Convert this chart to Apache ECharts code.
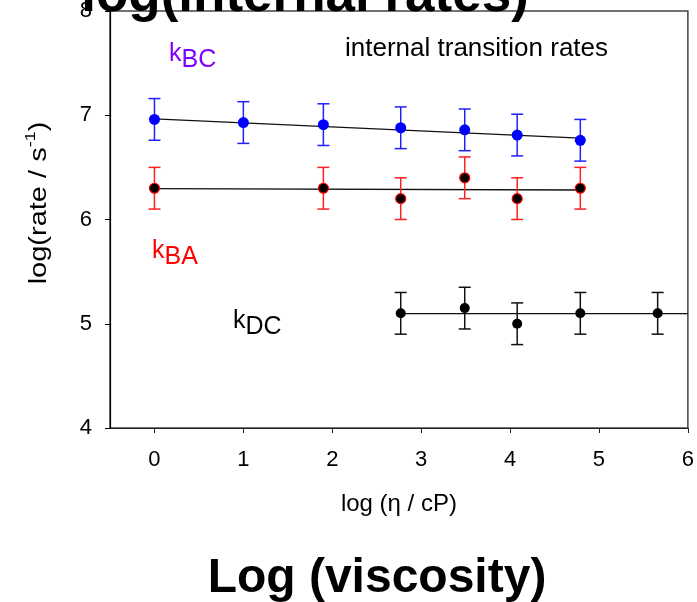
<!DOCTYPE html>
<html>
<head>
<meta charset="utf-8">
<script src="https://cdn.jsdelivr.net/npm/echarts@6/dist/echarts.min.js"></script>
<style>
html,body{margin:0;padding:0;background:#fff;}
#chart{width:697px;height:602px;}
</style>
</head>
<body>
<div id="chart"></div>
<script>
// ---- data ----
const xTicks = [0, 1, 2, 3, 4, 5, 6];
const yTicks = [4, 5, 6, 7, 8];

// k_BC (blue)
const xBC = [0, 1.0, 1.9, 2.77, 3.49, 4.08, 4.79];
const yBC = [6.96, 6.93, 6.91, 6.88, 6.86, 6.81, 6.76];
const eBC = [0.2, 0.2, 0.2, 0.2, 0.2, 0.2, 0.2];
const fitBC = [[0, 6.965], [4.79, 6.78]];

// k_BA (red)
const xBA = [0, 1.9, 2.77, 3.49, 4.08, 4.79];
const yBA = [6.3, 6.3, 6.2, 6.4, 6.2, 6.3];
const eBA = [0.2, 0.2, 0.2, 0.2, 0.2, 0.2];
const fitBA = [[0, 6.297], [4.79, 6.283]];

// k_DC (black)
const xDC = [2.77, 3.49, 4.08, 4.79, 5.66];
const yDC = [5.1, 5.15, 5.0, 5.1, 5.1];
const eDC = [0.2, 0.2, 0.2, 0.2, 0.2];
const fitDC = [[2.77, 5.097], [6, 5.097]];

const FONT = "'Liberation Sans', Arial, Helvetica, sans-serif";

function pts(xs, ys) { return xs.map((x, i) => [x, ys[i]]); }
function errs(xs, ys, es) { return xs.map((x, i) => [x, ys[i] - es[i], ys[i] + es[i]]); }

function errRender(color) {
  return function (params, api) {
    const x = api.value(0), lo = api.value(1), hi = api.value(2);
    const a = api.coord([x, lo]), b = api.coord([x, hi]);
    const hw = 6;
    const st = { stroke: color, lineWidth: 1.5 };
    return {
      type: 'group',
      children: [
        { type: 'line', shape: { x1: a[0], y1: a[1], x2: b[0], y2: b[1] }, style: st },
        { type: 'line', shape: { x1: a[0] - hw, y1: a[1], x2: a[0] + hw, y2: a[1] }, style: st },
        { type: 'line', shape: { x1: b[0] - hw, y1: b[1], x2: b[0] + hw, y2: b[1] }, style: st }
      ]
    };
  };
}

const chart = echarts.init(document.getElementById('chart'), null, { renderer: 'canvas' });

function kLabel(sub, color, left, top) {
  return {
    type: 'text', left: left, top: top, z: 100,
    style: {
      text: '{k|k}{s|' + sub + '}',
      fill: color,
      font: '25px ' + FONT,
      rich: {
        k: { fontSize: 25, fontFamily: FONT, lineHeight: 25, verticalAlign: 'top', fill: color },
        s: { fontSize: 25, fontFamily: FONT, lineHeight: 25, padding: [6, 0, 0, 0], verticalAlign: 'top', fill: color }
      }
    }
  };
}

const option = {
  backgroundColor: '#fff',
  animation: false,
  grid: {
    left: 110, right: 8, top: 11, bottom: 174,
    show: true, borderColor: '#444', borderWidth: 1.5, backgroundColor: 'transparent'
  },
  xAxis: {
    type: 'value', min: -0.5, max: 6,
    axisLine: { show: true, onZero: false, lineStyle: { color: '#222', width: 1.2 } },
    axisTick: { show: true, length: 5, lineStyle: { color: '#222' }, customValues: xTicks },
    axisLabel: { customValues: xTicks, color: '#000', fontSize: 22, fontFamily: FONT, margin: 21 },
    splitLine: { show: false },
    name: 'log (\u03B7 / cP)',
    nameLocation: 'middle', nameGap: 76,
    nameTextStyle: { color: '#000', fontSize: 24, fontFamily: FONT, verticalAlign: 'middle' }
  },
  yAxis: {
    type: 'value', min: 4, max: 8, interval: 1,
    axisLine: { show: true, onZero: false, lineStyle: { color: '#000', width: 1.2 } },
    axisTick: { show: true, length: 5, lineStyle: { color: '#000' }, customValues: yTicks },
    axisLabel: { customValues: yTicks, color: '#000', fontSize: 22, fontFamily: FONT, margin: 18 },
    splitLine: { show: false }
  },
  series: [
    { type: 'line', data: fitBC, symbol: 'none', lineStyle: { color: '#111', width: 1.3 }, z: 2 },
    { type: 'line', data: fitBA, symbol: 'none', lineStyle: { color: '#111', width: 1.3 }, z: 2 },
    { type: 'line', data: fitDC, symbol: 'none', lineStyle: { color: '#111', width: 1.3 }, z: 2 },
    { type: 'custom', renderItem: errRender('#2020ff'), data: errs(xBC, yBC, eBC), encode: { x: 0, y: [1, 2] }, z: 3 },
    { type: 'custom', renderItem: errRender('#ff2020'), data: errs(xBA, yBA, eBA), encode: { x: 0, y: [1, 2] }, z: 3 },
    { type: 'custom', renderItem: errRender('#111111'), data: errs(xDC, yDC, eDC), encode: { x: 0, y: [1, 2] }, z: 3 },
    { type: 'scatter', data: pts(xBC, yBC), symbol: 'circle', symbolSize: 11, itemStyle: { color: '#0000ff', opacity: 1 }, z: 4 },
    { type: 'scatter', data: pts(xBA, yBA), symbol: 'circle', symbolSize: 10, itemStyle: { color: '#000', borderColor: '#ff0000', borderWidth: 1.2, opacity: 1 }, z: 4 },
    { type: 'scatter', data: pts(xDC, yDC), symbol: 'circle', symbolSize: 10, itemStyle: { color: '#000', opacity: 1 }, z: 4 }
  ],
  graphic: [
    {
      type: 'text', x: 305, y: -4, z: 100,
      style: { text: 'log(internal rates)', fill: '#000', font: 'bold 53px ' + FONT, align: 'center', verticalAlign: 'middle' }
    },
    {
      type: 'text', x: 345, y: 49, z: 100,
      style: { text: 'internal transition rates', fill: '#000', font: '26px ' + FONT, align: 'left', verticalAlign: 'middle' }
    },
    kLabel('BC', '#8000ff', 169, 42),
    kLabel('BA', '#ff0000', 152, 239),
    kLabel('DC', '#000000', 233, 309),
    {
      type: 'text', x: 37, y: 203, rotation: Math.PI / 2, scaleY: 0.82, z: 100,
      style: {
        text: '{a|log(rate / s}{b|-1}{a|)}',
        fill: '#000', align: 'center', verticalAlign: 'middle',
        rich: {
          a: { fontSize: 29, fontFamily: FONT, lineHeight: 34, verticalAlign: 'bottom', fill: '#000' },
          b: { fontSize: 18, fontFamily: FONT, lineHeight: 18, verticalAlign: 'top', fill: '#000' }
        }
      }
    },
    {
      type: 'text', x: 377, y: 579, z: 100,
      style: { text: 'Log (viscosity)', fill: '#000', font: 'bold 48px ' + FONT, align: 'center', verticalAlign: 'middle' }
    }
  ]
};
chart.setOption(option);
</script>
</body>
</html>
